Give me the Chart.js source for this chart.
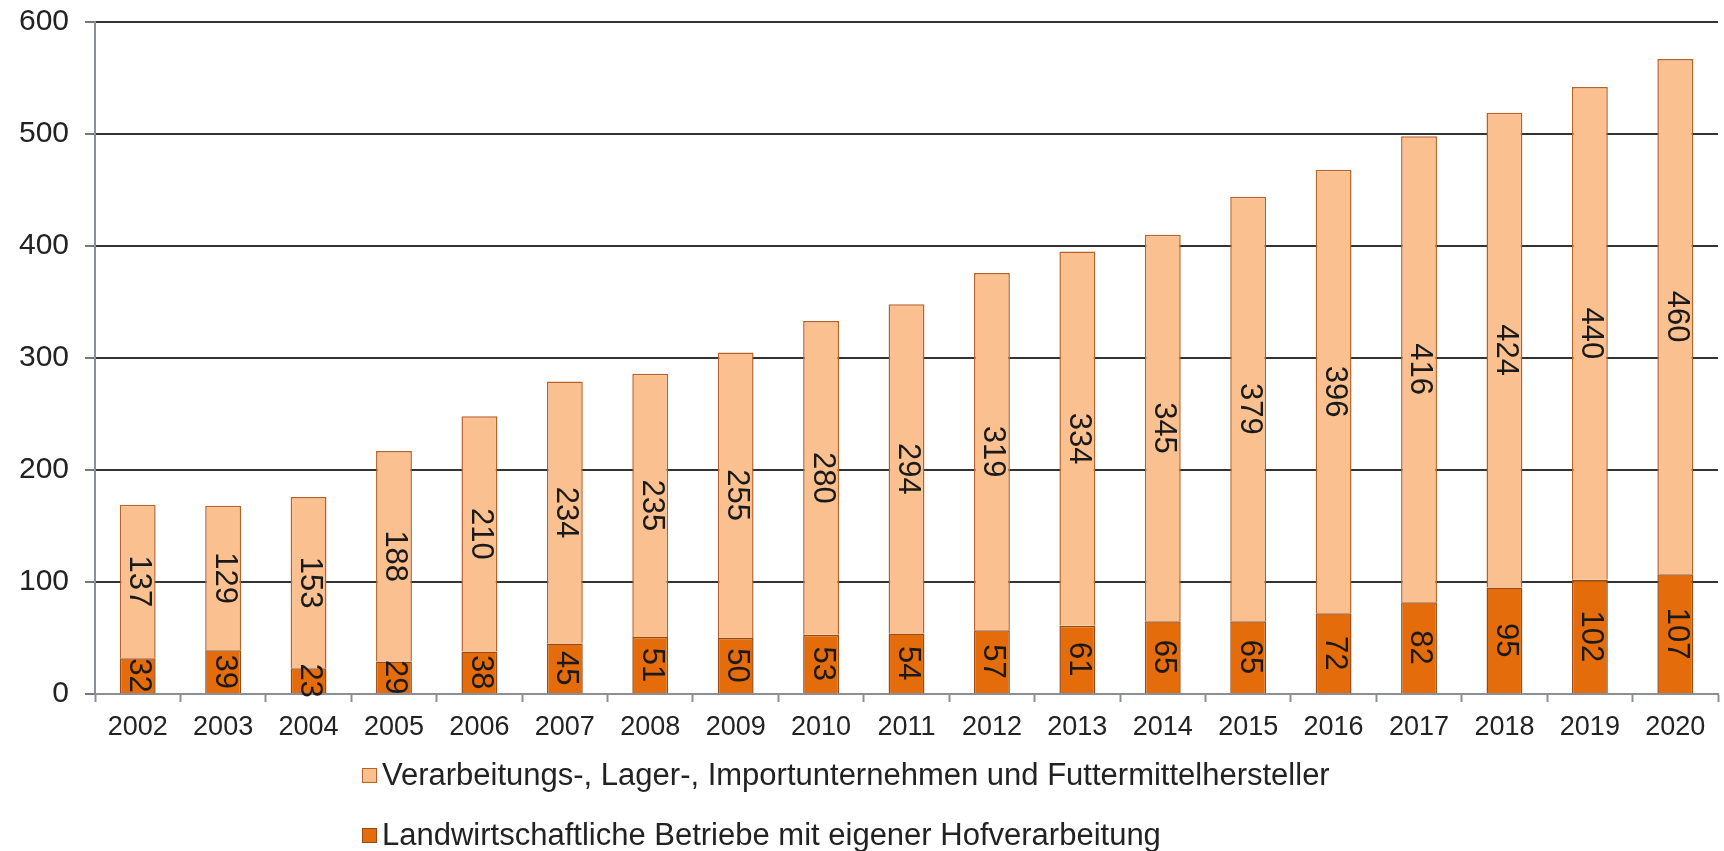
<!DOCTYPE html>
<html>
<head>
<meta charset="utf-8">
<script src="https://cdn.jsdelivr.net/npm/chart.js@4/dist/chart.umd.min.js"></script>
<style>
    html, body { margin: 0; padding: 0; background: #ffffff; }
    #wrap { position: relative; width: 1724px; height: 851px; }
    #legend {
        position: absolute; left: 362px; top: 755px;
        font-family: "Liberation Sans", Arial, sans-serif; font-size: 31px; color: #222;
    }
    .legend-item { display: flex; align-items: center; height: 40px; margin-bottom: 20px; }
    .legend-box { width: 15px; height: 15px; box-sizing: border-box; border: 1.5px solid; margin-right: 5px; }
</style>
</head>
<body>
<div id="wrap">
    <canvas id="chart" width="1724" height="851"></canvas>
    <div id="legend"></div>
</div>
<script>
// Bio-Betriebe je Jahr (Anzahl)
const years = ['2002', '2003', '2004', '2005', '2006', '2007', '2008', '2009', '2010', '2011',
               '2012', '2013', '2014', '2015', '2016', '2017', '2018', '2019', '2020'];
const hofverarbeitung = [32, 39, 23, 29, 38, 45, 51, 50, 53, 54, 57, 61, 65, 65, 72, 82, 95, 102, 107];
const verarbeitung    = [137, 129, 153, 188, 210, 234, 235, 255, 280, 294, 319, 334, 345, 379, 396, 416, 424, 440, 460];
const yTicks = [0, 100, 200, 300, 400, 500, 600];

const LABEL_DARK  = 'Landwirtschaftliche Betriebe mit eigener Hofverarbeitung';
const LABEL_LIGHT = 'Verarbeitungs-, Lager-, Importunternehmen und Futtermittelhersteller';

const FONT = '"Liberation Sans", Arial, sans-serif';

// value labels inside each segment, rotated 90° (reads top to bottom)
const rotatedLabels = {
    id: 'rotatedLabels',
    afterDatasetsDraw(chart) {
        const ctx = chart.ctx;
        ctx.save();
        ctx.font = `31px ${FONT}`;
        ctx.fillStyle = '#1a1a1a';
        ctx.textAlign = 'center';
        ctx.textBaseline = 'middle';
        chart.data.datasets.forEach((ds, di) => {
            chart.getDatasetMeta(di).data.forEach((bar, i) => {
                const top = Math.min(bar.y, bar.base);
                const bottom = Math.max(bar.y, bar.base);
                ctx.save();
                ctx.translate(bar.x + 1, (top + bottom) / 2);
                ctx.rotate(Math.PI / 2);
                ctx.fillText(String(ds.data[i]), 0, 0);
                ctx.restore();
            });
        });
        ctx.restore();
    }
};

const chart = new Chart(document.getElementById('chart'), {
    type: 'bar',
    data: {
        labels: years,
        datasets: [
            {
                label: LABEL_DARK,
                data: hofverarbeitung,
                backgroundColor: '#E46C0A',
                borderColor: '#9a4a12',
                borderWidth: 1.5,
                barPercentage: 0.42,
                categoryPercentage: 1,
            },
            {
                label: LABEL_LIGHT,
                data: verarbeitung,
                backgroundColor: '#FAC090',
                borderColor: '#b8622a',
                borderWidth: 1.5,
                barPercentage: 0.42,
                categoryPercentage: 1,
            },
        ],
    },
    options: {
        responsive: false,
        animation: false,
        layout: { padding: { top: 22, right: 6, bottom: 97, left: 0 } },
        plugins: {
            legend: { display: false },
            tooltip: { enabled: false },
        },
        scales: {
            x: {
                stacked: true,
                offset: true,
                afterFit(scale) { scale.height = 60; },
                border: { color: '#8a8f98', width: 2 },
                grid: {
                    offset: true,
                    drawOnChartArea: false,
                    tickLength: 8,
                    tickColor: '#8a8f98',
                    tickWidth: 2,
                },
                ticks: {
                    color: '#222',
                    font: { family: FONT, size: 27 },
                    padding: 9,
                    maxRotation: 0,
                },
            },
            y: {
                stacked: true,
                min: 0,
                max: 600,
                afterFit(scale) {
                    scale.width = 95;
                    scale.paddingTop = 0;   // the top label may sit in the layout padding
                },
                afterBuildTicks(scale) { scale.ticks = yTicks.map(v => ({ value: v })); },
                border: { color: '#8a8f98', width: 2 },
                grid: {
                    color: '#333',
                    lineWidth: 2,
                    tickLength: 10,
                    tickColor: '#777',
                },
                ticks: {
                    color: '#222',
                    font: { family: FONT, size: 30 },
                    padding: 16,
                },
            },
        },
    },
    plugins: [rotatedLabels],
});

// legend: light series first, like the original
const legendEl = document.getElementById('legend');
legendEl.innerHTML = [...chart.data.datasets].reverse().map(ds =>
    `<div class="legend-item">
        <span class="legend-box" style="background:${ds.backgroundColor};border-color:${ds.borderColor};"></span>
        <span>${ds.label}</span>
    </div>`
).join('');
</script>
</body>
</html>
